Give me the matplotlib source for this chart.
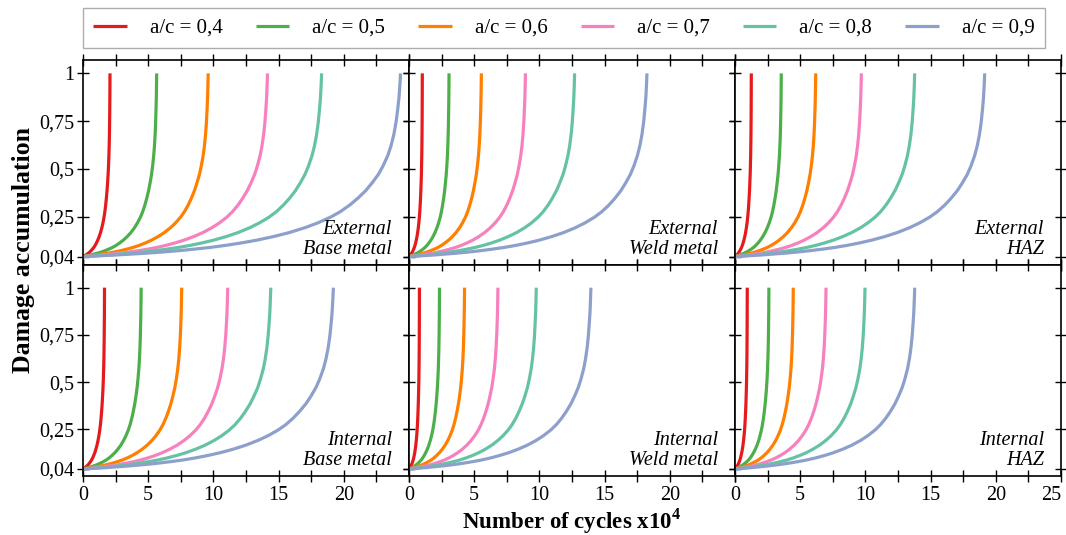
import numpy as np
import matplotlib
matplotlib.use('Agg')
import matplotlib.pyplot as plt
from matplotlib.ticker import MultipleLocator

plt.rcParams['font.family'] = ['Liberation Serif', 'DejaVu Serif']
plt.rcParams['mathtext.fontset'] = 'custom'
plt.rcParams['mathtext.rm'] = 'Liberation Serif'
plt.rcParams['mathtext.bf'] = 'Liberation Serif:bold'

# legend labels and colours (one per crack aspect ratio)
labels = ['a/c = 0,4', 'a/c = 0,5', 'a/c = 0,6', 'a/c = 0,7', 'a/c = 0,8', 'a/c = 0,9']
colors = ['#e41a1c', '#4daf4a', '#ff7f00', '#f781bf', '#66c2a5', '#8da0cb']

# damage curve: fraction of life -> damage
life_fraction = [0, 0.05, 0.1, 0.15, 0.2, 0.25, 0.3, 0.35, 0.4, 0.45, 0.5,
                 0.55, 0.6, 0.65, 0.7, 0.74, 0.78, 0.81, 0.84, 0.865, 0.89,
                 0.91, 0.93, 0.945, 0.96, 0.97, 0.979, 0.986, 0.991, 0.995,
                 0.998, 1.0]
damage = [0.04, 0.044, 0.048, 0.053, 0.058, 0.064, 0.071, 0.079, 0.088, 0.099,
          0.112, 0.127, 0.145, 0.166, 0.192, 0.217, 0.247, 0.275, 0.31, 0.345,
          0.385, 0.425, 0.47, 0.515, 0.57, 0.62, 0.68, 0.745, 0.81, 0.87,
          0.94, 1.0]

# cycles to failure (x10^4) for each a/c, per panel
ext_base = [2.07, 5.65, 9.6, 14.15, 18.3, 24.35]
ext_weld = [1.02, 3.07, 5.55, 8.93, 12.7, 18.25]
ext_haz = [1.25, 3.55, 6.19, 9.69, 13.78, 19.15]
int_base = [1.65, 4.46, 7.57, 11.1, 14.4, 19.2]
int_weld = [0.8, 2.34, 4.26, 6.82, 9.76, 13.95]
int_haz = [0.94, 2.6, 4.47, 6.98, 9.97, 13.78]

panels = [[ext_base, ext_weld, ext_haz], [int_base, int_weld, int_haz]]
panel_names = [['External\nBase metal', 'External\nWeld metal', 'External\nHAZ'],
               ['Internal\nBase metal', 'Internal\nWeld metal', 'Internal\nHAZ']]

yticks = [0.04, 0.25, 0.5, 0.75, 1]
yticklabels = ['0,04', '0,25', '0,5', '0,75', '1']

fig, axes = plt.subplots(2, 3, figsize=(10.66, 5.35), dpi=100,
                         gridspec_kw={'height_ratios': [205, 211]})
fig.subplots_adjust(left=83/1066, right=1061/1066, top=1-60/535,
                    bottom=1-476/535, hspace=0, wspace=0)

frac = np.array(life_fraction)
for r in range(2):
    for c in range(3):
        ax = axes[r, c]
        for nf, col, lab in zip(panels[r][c], colors, labels):
            ax.plot(frac * nf, damage, color=col, lw=2.3, label=lab,
                    solid_capstyle='butt', solid_joinstyle='round')
        ax.set_xlim(0, 25)
        if r == 0:
            ax.set_ylim(-0.004, 1.07)
        else:
            ax.set_ylim(0.003, 1.12)
        ax.set_yticks(yticks)
        ax.xaxis.set_minor_locator(MultipleLocator(2.5))
        if c < 2:
            ax.set_xticks([0, 5, 10, 15, 20])
        else:
            ax.set_xticks([0, 5, 10, 15, 20, 25])
        ax.tick_params(which='both', direction='inout', length=9, width=1,
                       top=True, right=True, labelsize=14.5, pad=2)
        ax.tick_params(axis='x', pad=3)
        if c == 0:
            ax.set_yticklabels(yticklabels)
        else:
            ax.set_yticklabels([])
        if r == 0:
            ax.set_xticklabels([])
        for s in ax.spines.values():
            s.set_linewidth(1.2)
        ax.annotate(panel_names[r][c], xy=(1, 0), xycoords='axes fraction',
                    xytext=(-17, 6), textcoords='offset pixels',
                    ha='right', va='bottom', multialignment='right',
                    fontsize=14.5, style='italic', linespacing=1.05)

# keep the last "25" inside the figure
axes[1, 2].get_xticklabels()[-1].set_horizontalalignment('right')

handles, labs = axes[0, 0].get_legend_handles_labels()
fig.legend(handles, labs, loc='upper center', bbox_to_anchor=(0.529, 0.985),
           ncol=6, fontsize=15, frameon=True, fancybox=False,
           edgecolor='#999999', handlelength=1.6, handletextpad=1.1,
           columnspacing=1.6, borderpad=0.5, borderaxespad=0)

fig.text(0.022, 0.532, 'Damage accumulation', rotation=90, ha='center',
         va='center', fontsize=18.5, fontweight='bold')
fig.text(0.536, 0.025, r'Number of cycles x10$^{\mathbf{4}}$', ha='center',
         va='center', fontsize=16.5, fontweight='bold')

fig.savefig('out.png', dpi=100)
